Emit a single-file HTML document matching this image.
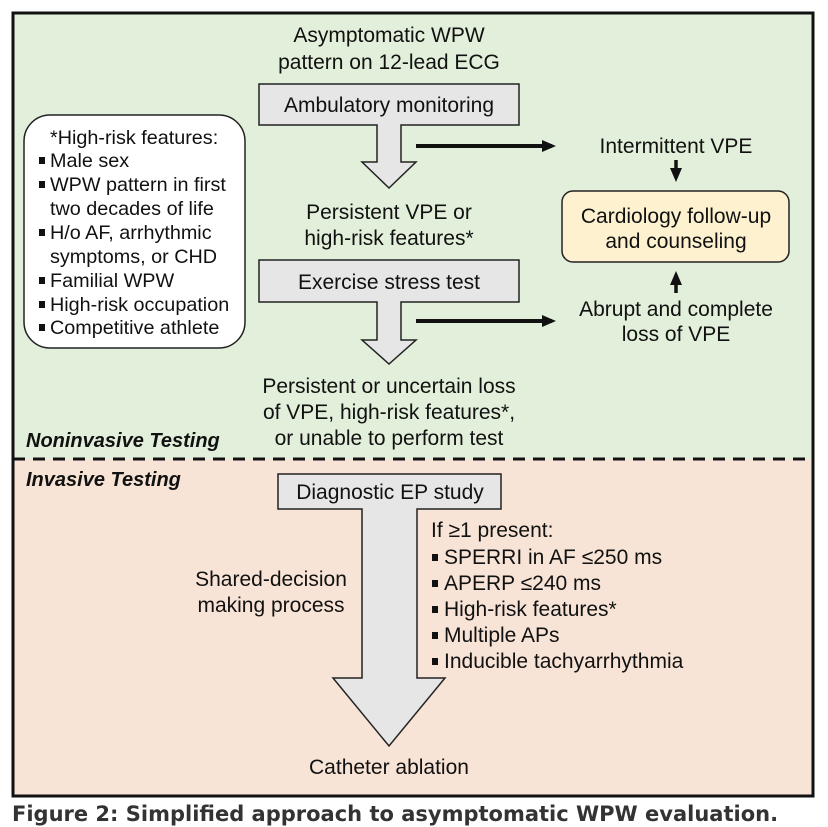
<!DOCTYPE html>
<html><head><meta charset="utf-8"><style>
html,body{margin:0;padding:0;background:#fff;width:828px;height:827px;overflow:hidden}
svg{display:block}
text{font-family:"Liberation Sans",Arial,sans-serif;font-size:21px;fill:#111}
.s{font-size:19.8px}
</style></head><body>
<svg width="828" height="827" viewBox="0 0 828 827" xmlns="http://www.w3.org/2000/svg">
<defs><marker id="ah" markerWidth="14" markerHeight="12" refX="10" refY="6" orient="auto" markerUnits="userSpaceOnUse"><path d="M0,0 L14,6 L0,12 z" fill="#111"/></marker></defs>
<rect x="13" y="13" width="800" height="446" fill="#e2efda"/>
<rect x="13" y="459" width="800" height="337" fill="#f8e4d6"/>
<rect x="13" y="13" width="800" height="783" fill="none" stroke="#111" stroke-width="3"/>
<line x1="13" y1="459" x2="813" y2="459" stroke="#111" stroke-width="3" stroke-dasharray="12,8"/>

<text x="389" y="42" text-anchor="middle">Asymptomatic WPW</text>
<text x="389" y="69" text-anchor="middle">pattern on 12-lead ECG</text>

<path d="M259,84 H519 V125 H401 V162 H416 L389,188 L362,162 H377 V125 H259 Z" fill="#e6e6e6" stroke="#222" stroke-width="1.5"/>
<text x="389" y="112" text-anchor="middle">Ambulatory monitoring</text>

<text x="389" y="219" text-anchor="middle">Persistent VPE or</text>
<text x="389" y="245" text-anchor="middle">high-risk features*</text>

<path d="M259,260 H519 V302 H401 V340 H416 L389,364 L362,340 H377 V302 H259 Z" fill="#e6e6e6" stroke="#222" stroke-width="1.5"/>
<text x="389" y="289" text-anchor="middle">Exercise stress test</text>

<text x="389" y="393" text-anchor="middle">Persistent or uncertain loss</text>
<text x="389" y="419" text-anchor="middle">of VPE, high-risk features*,</text>
<text x="389" y="445" text-anchor="middle">or unable to perform test</text>

<line x1="416" y1="146" x2="552" y2="146" stroke="#111" stroke-width="4" marker-end="url(#ah)"/>
<line x1="416" y1="321" x2="552" y2="321" stroke="#111" stroke-width="4" marker-end="url(#ah)"/>

<text x="676" y="153" text-anchor="middle">Intermittent VPE</text>
<line x1="676" y1="160" x2="676" y2="178" stroke="#111" stroke-width="3.5" marker-end="url(#ah)"/>
<rect x="562" y="191" width="227" height="71" rx="11" fill="#fdf1cf" stroke="#222" stroke-width="1.5"/>
<text x="676" y="223" text-anchor="middle">Cardiology follow-up</text>
<text x="676" y="248" text-anchor="middle">and counseling</text>
<line x1="676" y1="293" x2="676" y2="275" stroke="#111" stroke-width="3.5" marker-end="url(#ah)"/>
<text x="676" y="316" text-anchor="middle">Abrupt and complete</text>
<text x="676" y="341" text-anchor="middle">loss of VPE</text>

<rect x="24" y="115" width="221" height="233" rx="26" fill="#fff" stroke="#222" stroke-width="1.5"/>
<text class="s" x="50" y="144">*High-risk features:</text>
<g>
<rect x="39" y="157" width="6" height="7" fill="#111"/><text class="s" x="50" y="167">Male sex</text>
<rect x="39" y="181" width="6" height="7" fill="#111"/><text class="s" x="50" y="191">WPW pattern in first</text>
<text class="s" x="50" y="215">two decades of life</text>
<rect x="39" y="229" width="6" height="7" fill="#111"/><text class="s" x="50" y="239">H/o AF, arrhythmic</text>
<text class="s" x="50" y="263">symptoms, or CHD</text>
<rect x="39" y="277" width="6" height="7" fill="#111"/><text class="s" x="50" y="287">Familial WPW</text>
<rect x="39" y="301" width="6" height="7" fill="#111"/><text class="s" x="50" y="311">High-risk occupation</text>
<rect x="39" y="324" width="6" height="7" fill="#111"/><text class="s" x="50" y="334">Competitive athlete</text>
</g>

<text x="26" y="447" style="font-weight:bold;font-style:italic;font-size:20px">Noninvasive Testing</text>
<text x="26" y="486" style="font-weight:bold;font-style:italic;font-size:20px">Invasive Testing</text>

<path d="M278,474 H501 V509 H417 V678 H445 L389,746 L333,678 H362 V509 H278 Z" fill="#e6e6e6" stroke="#222" stroke-width="1.5"/>
<text x="390" y="499" text-anchor="middle">Diagnostic EP study</text>

<text x="271" y="586" text-anchor="middle">Shared-decision</text>
<text x="271" y="612" text-anchor="middle">making process</text>

<text x="431" y="537">If ≥1 present:</text>
<rect x="432" y="554" width="6" height="7" fill="#111"/><text x="444" y="564">SPERRI in AF ≤250 ms</text>
<rect x="432" y="580" width="6" height="7" fill="#111"/><text x="444" y="590">APERP ≤240 ms</text>
<rect x="432" y="606" width="6" height="7" fill="#111"/><text x="444" y="616">High-risk features*</text>
<rect x="432" y="632" width="6" height="7" fill="#111"/><text x="444" y="642">Multiple APs</text>
<rect x="432" y="658" width="6" height="7" fill="#111"/><text x="444" y="668">Inducible tachyarrhythmia</text>

<text x="389" y="774" text-anchor="middle">Catheter ablation</text>

<text x="12" y="821" style="font-family:'DejaVu Sans','Liberation Sans',sans-serif;font-weight:bold;font-size:21px;fill:#333">Figure 2: Simplified approach to asymptomatic WPW evaluation.</text>
</svg>
</body></html>
